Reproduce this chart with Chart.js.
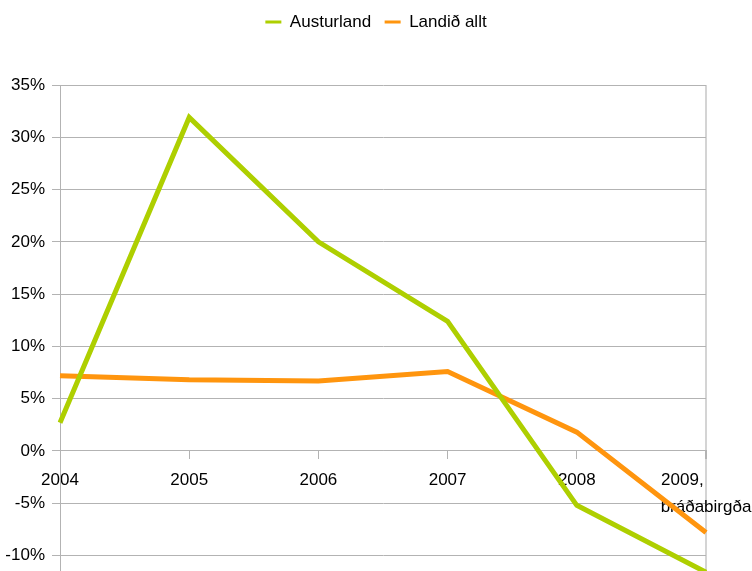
<!DOCTYPE html>
<html>
<head>
<meta charset="utf-8">
<script src="https://cdn.jsdelivr.net/npm/chart.js@4.4.1/dist/chart.umd.min.js"></script>
<style>
  html, body { margin: 0; padding: 0; background: #ffffff; overflow: hidden; }
  #wrap { width: 752px; height: 625px; }
</style>
</head>
<body>
<div id="wrap"><canvas id="c" width="752" height="625"></canvas></div>
<script>
const categories = ['2004', '2005', '2006', '2007', '2008', ['2009,', 'bráðabirgða']];
const austurland = [2.7, 31.9, 20.0, 12.4, -5.2, -11.6];
const landidAllt = [7.2, 6.8, 6.7, 7.6, 1.8, -7.8];
const seriesNames = ['Austurland', 'Landið allt'];
const yMin = -15, yMax = 35, yStep = 5;

const FONT = "'Liberation Sans', Arial, sans-serif";
Chart.defaults.font.family = FONT;
Chart.defaults.color = '#000000';

// Multi-line category labels are left-aligned as a block in the original:
// pad shorter lines with trailing spaces so centred lines share a left edge.
function leftAlignBlock(label) {
  if (!Array.isArray(label)) return label;
  const c = document.createElement('canvas').getContext('2d');
  c.font = "17px " + FONT;
  const widths = label.map(s => c.measureText(s).width);
  const maxW = Math.max(...widths);
  const sp = c.measureText(' ').width;
  return label.map((s, i) => s + ' '.repeat(Math.round((maxW - widths[i]) / sp)));
}

new Chart(document.getElementById('c'), {
  type: 'line',
  data: {
    labels: categories,
    datasets: [
      { label: seriesNames[0], data: austurland, borderColor: '#aecf00', backgroundColor: '#aecf00',
        borderWidth: 5, pointRadius: 0, tension: 0, borderJoinStyle: 'miter' },
      { label: seriesNames[1], data: landidAllt, borderColor: '#ff950e', backgroundColor: '#ff950e',
        borderWidth: 5, pointRadius: 0, tension: 0, borderJoinStyle: 'miter' }
    ]
  },
  options: {
    responsive: false,
    animation: false,
    devicePixelRatio: 1,
    layout: { padding: { left: 0, right: 0, top: 0, bottom: 0 } },
    plugins: {
      tooltip: { enabled: false },
      legend: {
        position: 'top',
        align: 'center',
        labels: {
          boxWidth: 16, boxHeight: 3, padding: 13.5, color: '#000', font: { size: 17 },
          generateLabels: (chart) => Chart.defaults.plugins.legend.labels.generateLabels(chart)
            .map(l => Object.assign(l, { lineWidth: 0 }))
        }
      },
      title: {
        display: true, text: '', weight: 500, position: 'top',
        font: { size: 10, lineHeight: 1 }, padding: { top: 34.5, bottom: 0 }
      }
    },
    scales: {
      x: {
        type: 'category',
        offset: false,
        position: { y: 0 },
        afterFit: (scale) => { scale.paddingRight = 46; },
        border: { display: true, color: '#b3b3b3', width: 1 },
        grid: {
          drawOnChartArea: true,
          drawTicks: true,
          tickLength: 8,
          tickColor: '#b3b3b3',
          color: (ctx) => (ctx.index === categories.length - 1 ? '#d4d4d4' : 'rgba(0,0,0,0)'),
          lineWidth: (ctx) => (ctx.index === categories.length - 1 ? 2 : 1)
        },
        ticks: { maxRotation: 0, autoSkip: false, padding: 8, color: '#000',
                 font: { size: 17, lineHeight: '27px' },
                 callback: function (value, index) { return leftAlignBlock(categories[index]); } }
      },
      y: {
        min: yMin, max: yMax,
        afterFit: (scale) => { scale.width = 60; },
        border: { display: true, color: '#b3b3b3', width: 1 },
        grid: { color: '#b3b3b3', lineWidth: 1, tickLength: 8 },
        ticks: { stepSize: yStep, padding: 7, color: '#000', font: { size: 17 },
                 callback: (v) => v + '%' }
      }
    }
  }
});
</script>
</body>
</html>
